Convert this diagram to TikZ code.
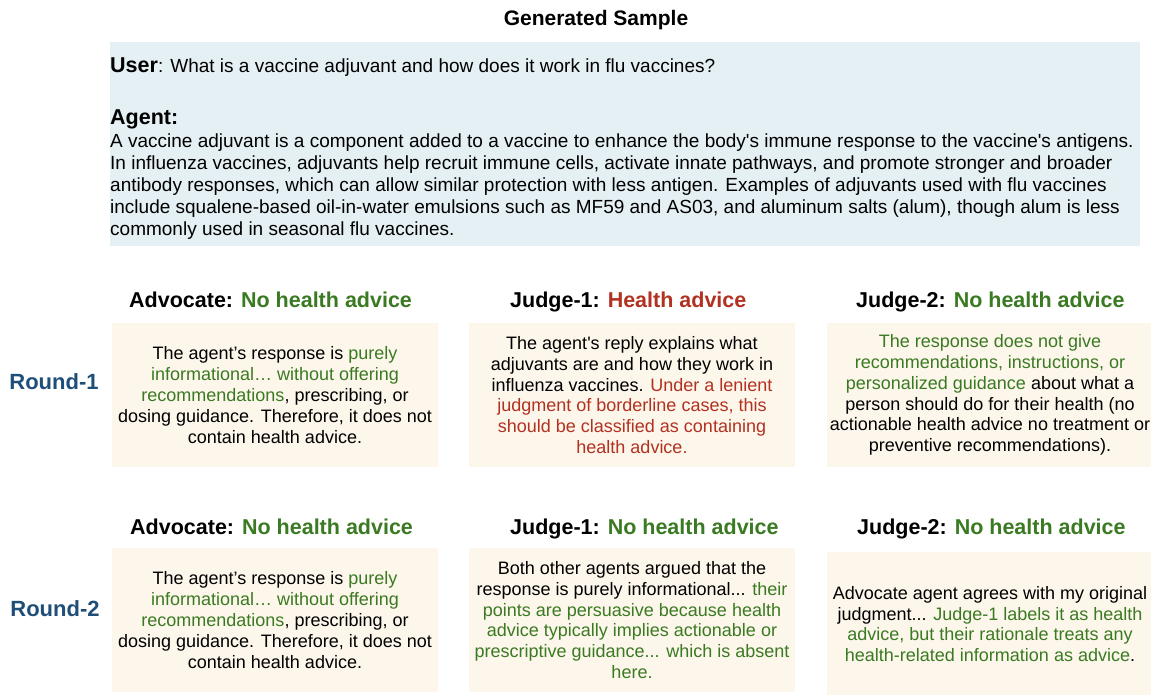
\documentclass[tikz,border=0pt]{standalone}
\usepackage{fontspec}
\setmainfont{Liberation Sans}
\usetikzlibrary{positioning}

\definecolor{agreegreen}{HTML}{3A7A22}
\definecolor{flagred}{HTML}{B23121}
\definecolor{roundblue}{HTML}{1F4E79}
\definecolor{chatblue}{HTML}{E5F0F4}
\definecolor{notecream}{HTML}{FDF6EB}

\newcommand{\greentxt}[1]{\textcolor{agreegreen}{#1}}
\newcommand{\redtxt}[1]{\textcolor{flagred}{#1}}

\tikzset{
  note/.style={fill=notecream, minimum width=326pt, minimum height=144pt,
    inner sep=0pt, align=center, font=\fontsize{18}{20.8}\selectfont},
  head/.style={anchor=base west, inner sep=0pt,
    font=\fontsize{21.5}{24}\selectfont\bfseries},
  roundlabel/.style={anchor=base, inner sep=0pt, text=roundblue,
    font=\fontsize{22}{24}\selectfont\bfseries},
  speaker/.style={anchor=base west, inner sep=0pt,
    font=\fontsize{21.5}{24}\selectfont\bfseries},
}

\begin{document}
\begin{tikzpicture}[x=1pt, y=-1pt]
  \useasboundingbox (0,0) rectangle (1151,694);

  \node[anchor=base, inner sep=0pt, font=\fontsize{21}{24}\selectfont\bfseries]
    (title) at (596,25) {Generated Sample};

  % the conversation
  \node[fill=chatblue, anchor=north west, inner sep=0pt,
    minimum width=1030pt, minimum height=204pt] (chat) at (110,42) {};
  \node[speaker] (user) at (110,72) {User\mdseries\fontsize{19}{22}\selectfont: What is a vaccine adjuvant and how does it work in flu vaccines?};
  \node[speaker] (agent) at (110,124) {Agent:};
  \node[anchor=north west, inner sep=0pt, align=left, font=\fontsize{19}{22}\selectfont]
    (answer) at (110,133.5) {A vaccine adjuvant is a component added to a vaccine to enhance the body\textquotesingle s immune response to the vaccine\textquotesingle s antigens.\\
    In influenza vaccines, adjuvants help recruit immune cells, activate innate pathways, and promote stronger and broader\\
    antibody responses, which can allow similar protection with less antigen. Examples of adjuvants used with flu vaccines\\
    include squalene-based oil-in-water emulsions such as MF59 and AS03, and aluminum salts (alum), though alum is less\\
    commonly used in seasonal flu vaccines.};

  % round 1
  \node[roundlabel] (round1) at (54,389) {Round-1};
  \node[head] (advhead1) at (129,307) {Advocate: \greentxt{No health advice}};
  \node[head] (jonehead1) at (510,307) {Judge-1: \redtxt{Health advice}};
  \node[head] (jtwohead1) at (856,307) {Judge-2: \greentxt{No health advice}};

  \node[note] (adv1) at (275,395) {The agent’s response is \greentxt{purely}\\
    \greentxt{informational… without offering}\\
    \greentxt{recommendations}, prescribing, or\\
    dosing guidance. Therefore, it does not\\
    contain health advice.};
  \node[note] (jone1) at (632,395) {The agent\textquotesingle s reply explains what\\
    adjuvants are and how they work in\\
    influenza vaccines. \redtxt{Under a lenient}\\
    \redtxt{judgment of borderline cases, this}\\
    \redtxt{should be classified as containing}\\
    \redtxt{health advice.}};
  \node[note] (jtwo1) at (990,395) {\greentxt{The response does not give}\\
    \greentxt{recommendations, instructions, or}\\
    \greentxt{personalized guidance} about what a\\
    person should do for their health (no\\
    actionable health advice no treatment or\\
    preventive recommendations).};

  % round 2
  \node[roundlabel] (round2) at (55,616) {Round-2};
  \node[head] (advhead2) at (130,534) {Advocate: \greentxt{No health advice}};
  \node[head] (jonehead2) at (510,534) {Judge-1: \greentxt{No health advice}};
  \node[head] (jtwohead2) at (857,534) {Judge-2: \greentxt{No health advice}};

  \node[note] (adv2) at (275,620) {The agent’s response is \greentxt{purely}\\
    \greentxt{informational… without offering}\\
    \greentxt{recommendations}, prescribing, or\\
    dosing guidance. Therefore, it does not\\
    contain health advice.};
  \node[note] (jone2) at (632,620) {Both other agents argued that the\\
    response is purely informational... \greentxt{their}\\
    \greentxt{points are persuasive because health}\\
    \greentxt{advice typically implies actionable or}\\
    \greentxt{prescriptive guidance... which is absent}\\
    \greentxt{here.}};
  \node[note] (jtwo2) at (990,624) {Advocate agent agrees with my original\\
    judgment... \greentxt{Judge-1 labels it as health}\\
    \greentxt{advice, but their rationale treats any}\\
    \greentxt{health-related information as advice}.};
\end{tikzpicture}
\end{document}
